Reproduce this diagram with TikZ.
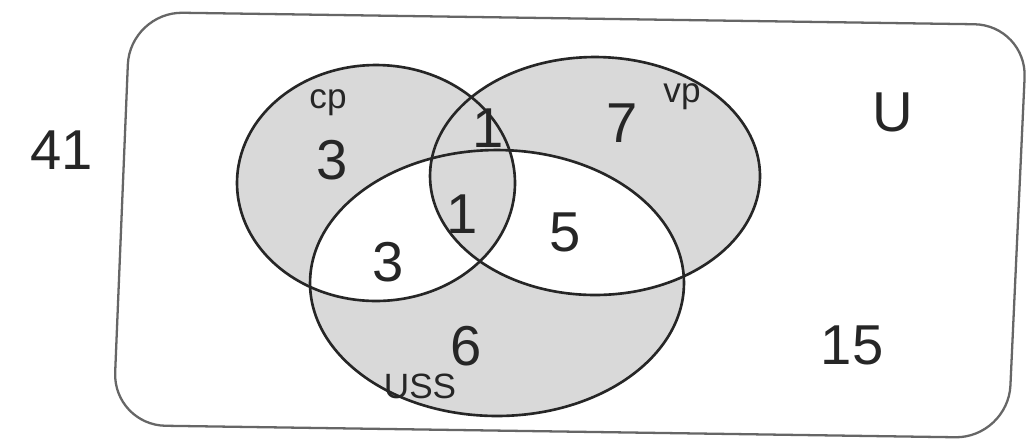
\documentclass[tikz,border=0pt]{standalone}
\usepackage{fontspec}
\setmainfont{Liberation Sans}
\begin{document}
\begin{tikzpicture}[x=0.02cm,y=-0.02cm,
  outline/.style={line width=1.5pt,draw=black!85},
  frame/.style={line width=1.3pt,draw=black!60,rounded corners=30},
  shade/.style={fill=black!15},
  num/.style={font=\fontsize{32}{34}\selectfont,text=black!85,inner sep=0pt},
  lab/.style={font=\fontsize{20}{22}\selectfont,text=black!85,inner sep=0pt}]
\useasboundingbox[fill=white] (0,0) rectangle (1030,441);
\def\cp{(376,183) ellipse [x radius=2.78cm, y radius=2.36cm]}
\def\vp{(595,176) ellipse [x radius=3.30cm, y radius=2.38cm]}
\def\uss{(497,283) ellipse [x radius=3.74cm, y radius=2.66cm]}
% universe frame
\draw[frame] (130,12) -- (1027,25) -- (1008,438) -- (113,425) -- cycle;
% shading
\fill[shade] \cp;
\fill[shade] \vp;
\fill[shade] \uss;
\begin{scope}\clip \cp; \fill[white] \uss; \end{scope}
\begin{scope}\clip \vp; \fill[white] \uss; \end{scope}
\begin{scope}\clip \cp; \clip \vp; \fill[shade] \uss; \end{scope}
% outlines
\draw[outline] \cp;
\draw[outline] \vp;
\draw[outline] \uss;
% labels
\node[num] (total) at (62,150) {41};
\node[num] (univ) at (893,112) {U};
\node[lab] (cpl) at (328,103) {cp};
\node[lab] (vpl) at (682,97) {vp};
\node[lab] (ussl) at (420,386) {USS};
\node[num] (cponly) at (332,160) {3};
\node[num] (cpvp) at (488,128) {1};
\node[num] (vponly) at (622,123) {7};
\node[num] (center) at (462,214) {1};
\node[num] (cpuss) at (388,262) {3};
\node[num] (vpuss) at (565,232) {5};
\node[num] (ussonly) at (466,346) {6};
\node[num] (outside) at (852,345) {15};
\end{tikzpicture}
\end{document}
